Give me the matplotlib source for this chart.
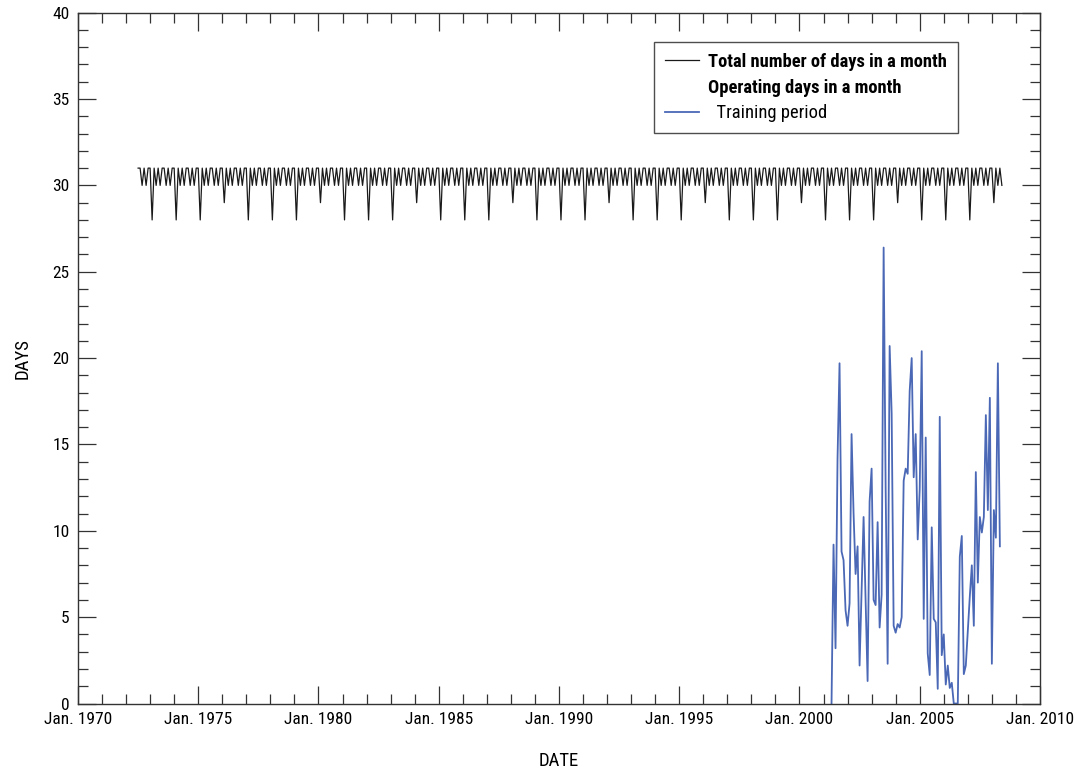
import calendar
import matplotlib
matplotlib.use("Agg")
import matplotlib.pyplot as plt
from matplotlib.lines import Line2D
from matplotlib.ticker import MultipleLocator
from matplotlib import font_manager

# ---------------- data ----------------
total_start = (1972, 7)   # first month of total-days series
total_end = (2008, 6)     # last month of total-days series

oper_start = (2001, 5)    # first month of operating-days series
operating_days = [
    0, 9.2, 3.2, 14.2, 19.7, 8.8, 8.3, 5.4, 4.5, 5.8,
    15.6, 11.0, 7.5, 9.1, 2.2, 6.5, 10.8, 6.0, 1.3, 11.7,
    13.6, 6.0, 5.7, 10.5, 4.4, 6.3, 26.4, 12.5, 2.3, 20.7,
    16.8, 4.5, 4.1, 4.6, 4.4, 5.0, 12.9, 13.6, 13.3, 18.1,
    20.0, 13.1, 15.6, 9.5, 12.4, 20.4, 4.9, 15.4, 2.9, 1.65,
    10.2, 4.9, 4.7, 0.85, 16.6, 2.8, 4.0, 1.1, 2.2, 0.9,
    1.2, 0, 0, 0, 8.5, 9.7, 1.7, 2.2, 4.2, 6.2,
    8.0, 4.5, 13.4, 7.0, 10.8, 9.9, 10.8, 16.7, 11.2, 17.7,
    2.3, 11.2, 9.6, 19.7, 9.1,
]

xtick_years = [1970, 1975, 1980, 1985, 1990, 1995, 2000, 2005, 2010]
xtick_labels = ["Jan. %d" % y for y in xtick_years]

labels = ["Total number of days in a month",
          "Operating days in a month",
          "  Training period"]

# ---------------- derived series ----------------
def month_range(start, end):
    y, m = start
    out = []
    while (y, m) <= end:
        out.append((y, m))
        m += 1
        if m > 12:
            m = 1
            y += 1
    return out

total_months = month_range(total_start, total_end)
total_x = [y + (m - 1) / 12.0 for y, m in total_months]
total_days = [calendar.monthrange(y, m)[1] for y, m in total_months]

oy, om = oper_start
oper_x = []
for i in range(len(operating_days)):
    k = (om - 1) + i
    oper_x.append(oy + k // 12 + (k % 12) / 12.0)

# ---------------- style ----------------
fl = font_manager.fontManager.ttflist
names = {f.name for f in fl}
stretch = "normal"
size = 11
fam = None
for cand in ["Liberation Sans Narrow", "Roboto Condensed", "Open Sans Condensed",
             "Noto Sans Condensed", "Arial Narrow"]:
    if cand in names:
        fam, size = cand, 12.5
        break
if fam is None:
    cond = [f for f in fl if f.name == "DejaVu Sans" and
            str(f.stretch).lower() in ("condensed", "semi-condensed", "semicondensed")]
    if cond:
        fam, stretch, size = "DejaVu Sans", "condensed", 11.5
    else:
        fam, size = "Liberation Sans", 11
plt.rcParams["font.family"] = [fam, "DejaVu Sans"]
plt.rcParams["font.stretch"] = stretch
plt.rcParams["font.size"] = size

fig = plt.figure(figsize=(10.74, 7.73), dpi=100)
ax = fig.add_axes([0.0726, 0.0899, 0.8957, 0.8937])

ax.plot(total_x, total_days, color="#1a1a1a", lw=0.9)
ax.plot(oper_x, operating_days, color="#4a68b5", lw=1.3)

ax.set_xlim(1970, 2010)
ax.set_ylim(0, 40)
ax.set_xticks(xtick_years)
ax.set_xticklabels(xtick_labels)
ax.xaxis.set_minor_locator(MultipleLocator(1))
ax.yaxis.set_major_locator(MultipleLocator(5))
ax.yaxis.set_minor_locator(MultipleLocator(1))
ax.tick_params(which="both", direction="in", top=True, right=True,
               colors="#333333", labelcolor="black", labelsize=size)
ax.tick_params(which="major", length=13, width=0.9, pad=6)
ax.tick_params(which="minor", length=7, width=0.9)
for s in ax.spines.values():
    s.set_linewidth(1.0)
    s.set_color("#333333")

ax.set_xlabel("DATE", fontsize=size + 1, labelpad=18)
ax.set_ylabel("DAYS", fontsize=size + 1, labelpad=15)

handles = [Line2D([], [], color="#1a1a1a", lw=0.9),
           Line2D([], [], color="none"),
           Line2D([], [], color="#4a68b5", lw=1.3)]
leg = ax.legend(handles, labels, loc="upper left",
                bbox_to_anchor=(0.599, 0.958), frameon=True, fancybox=False,
                edgecolor="#222222", fontsize=size + 0.8, handlelength=1.8,
                handletextpad=0.5, labelspacing=0.42, borderpad=0.6,
                borderaxespad=0)
leg.get_frame().set_linewidth(1.0)
texts = leg.get_texts()
texts[0].set_fontweight("bold")
texts[1].set_fontweight("bold")

fig.savefig("out.png", dpi=100)
